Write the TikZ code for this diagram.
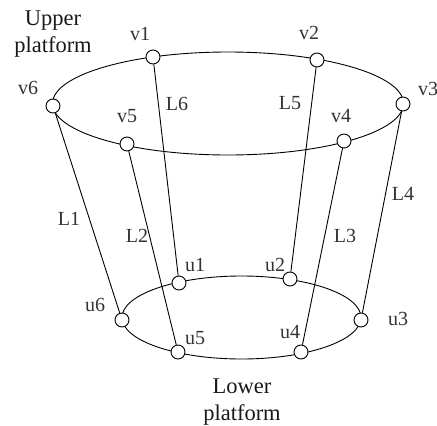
\documentclass[tikz,border=0pt]{standalone}
\usepackage{fontspec}
\setmainfont{Liberation Serif}
\tikzset{
  joint/.style={circle,draw=black,fill=white,line width=0.9pt,minimum size=14pt,inner sep=0pt},
  rim/.style={line width=0.9pt,black},
  leg/.style={line width=0.9pt,black},
  lab/.style={inner sep=0pt,font=\fontsize{20}{20}\selectfont,text=black!80},
  captext/.style={inner sep=0pt,align=center,font=\fontsize{22.5}{27}\selectfont,text=black!90}
}
\begin{document}
\begin{tikzpicture}[x=1pt,y=-1pt]
\useasboundingbox (0,0) rectangle (437,426);
\coordinate (cu) at (228,103.5);
\coordinate (cl) at (241.5,317.5);
\draw[rim] (cu) ellipse [x radius=175.5,y radius=51.5];
\draw[rim] (cl) ellipse [x radius=119.5,y radius=41.5];
\node[joint] (v1) at (153,57) {};
\node[joint] (v2) at (317,60) {};
\node[joint] (v3) at (403,104) {};
\node[joint] (v4) at (344,141) {};
\node[joint] (v5) at (127,144) {};
\node[joint] (v6) at (53,106) {};
\node[joint] (u1) at (179,283) {};
\node[joint] (u2) at (290,279) {};
\node[joint] (u3) at (361,320) {};
\node[joint] (u4) at (301,352) {};
\node[joint] (u5) at (178,352) {};
\node[joint] (u6) at (122,320) {};
\draw[leg] (v6) -- (u6);
\draw[leg] (v5) -- (u5);
\draw[leg] (v4) -- (u4);
\draw[leg] (v3) -- (u3);
\draw[leg] (v2) -- (u2);
\draw[leg] (v1) -- (u1);
\node[lab] (tv1) at (140,34) {v1};
\node[lab] (tv2) at (309,33) {v2};
\node[lab,anchor=west] (tv3) at (418,89) {v3};
\node[lab] (tv4) at (341,116) {v4};
\node[lab] (tv5) at (127,116) {v5};
\node[lab] (tv6) at (28,88) {v6};
\node[lab] (tu1) at (195,265) {u1};
\node[lab] (tu2) at (275,265) {u2};
\node[lab] (tu3) at (398,319) {u3};
\node[lab] (tu4) at (290,332) {u4};
\node[lab] (tu5) at (195,338) {u5};
\node[lab] (tu6) at (95,305) {u6};
\node[lab] (l1) at (69,219) {L1};
\node[lab] (l2) at (137,236) {L2};
\node[lab] (l3) at (345,236) {L3};
\node[lab] (l4) at (403,194) {L4};
\node[lab] (l5) at (290,103) {L5};
\node[lab] (l6) at (177,104) {L6};
\node[captext] (upper) at (53,34) {Upper\\platform};
\node[captext] (lower) at (242,402) {Lower\\platform};
\end{tikzpicture}
\end{document}
